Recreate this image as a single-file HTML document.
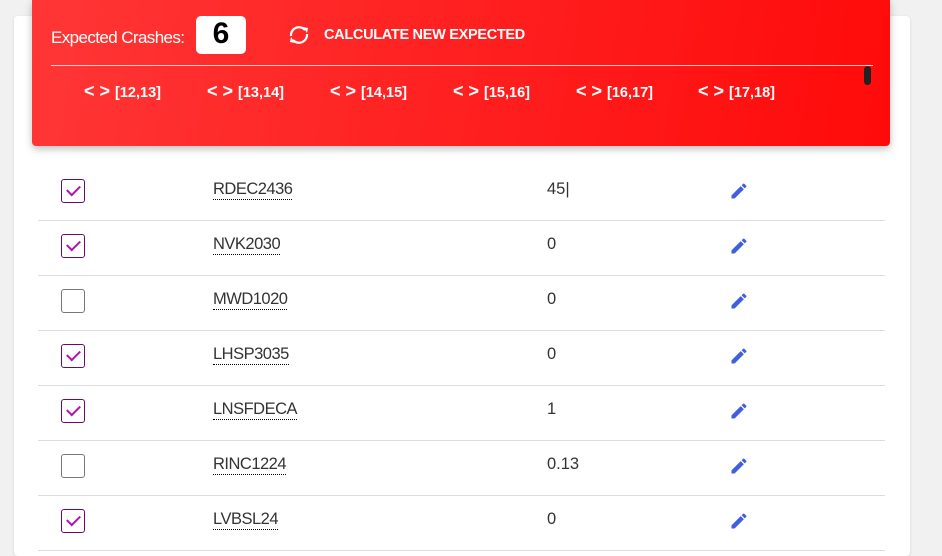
<!DOCTYPE html>
<html><head><meta charset="utf-8"><style>
body{margin:0;width:942px;height:545px;overflow:hidden;background:#f1f1f1;font-family:"Liberation Sans",sans-serif;position:relative}
.card{position:absolute;left:14px;top:16px;width:896px;height:540px;background:#fff;border-radius:4px;box-shadow:0 1px 3px rgba(0,0,0,.12)}
.hdr{position:absolute;left:32px;top:0;width:858px;height:146px;background:linear-gradient(100deg,#ff3636,#ff0a0a);border-radius:0 0 4px 4px;box-shadow:0 3px 8px rgba(0,0,0,.25);color:#fff}
.lbl{position:absolute;left:19px;top:28px;font-size:17px;letter-spacing:-0.6px}
.num{position:absolute;left:164px;top:16px;width:50px;height:38px;background:#fff;border-radius:5px;color:#000;font-size:30px;font-weight:bold;text-align:center;line-height:36px}
.calc{position:absolute;left:292px;top:27px;font-size:14.5px;font-weight:bold;letter-spacing:-0.3px}
.line{position:absolute;left:19px;top:65px;width:822px;height:1px;background:rgba(255,255,255,.8)}
.sb{position:absolute;left:832px;top:66px;width:7px;height:19px;background:#222;border-radius:4px}
.tab{position:absolute;top:81px;font-size:14.5px;font-weight:bold}
.tab b{font-size:18px;position:relative;top:0px;margin-right:5px}
.row{position:absolute;left:38px;width:847px;height:55px;border-bottom:1px solid #ddd}
.cb{position:absolute;left:23px;top:14px;width:22px;height:22px;border:1px solid #777;border-radius:3px;background:#fff}
.cb.on{border-color:#6a0a6a}
.cb.on::after{content:"";position:absolute;left:5px;top:5px;width:11px;height:6px;border-left:2px solid #b012b0;border-bottom:2px solid #b012b0;transform:rotate(-45deg)}
.nm{position:absolute;left:175px;top:15px;font-size:16.5px;color:#333;border-bottom:1px dotted #000;letter-spacing:-0.5px;line-height:19px}
.val{position:absolute;left:509px;top:15px;font-size:16.5px;color:#333;line-height:19px}
.ed{position:absolute;left:691px;top:16px}
</style></head><body>
<div class="card"></div>
<div class="hdr">
<div class="lbl">Expected Crashes:</div>
<div class="num">6</div>
<svg style="position:absolute;left:254px;top:24px" width="26" height="22" viewBox="0 0 26 22"><path d="M5 12a8 8 0 0 1 14-6" fill="none" stroke="#fff" stroke-width="2.2"/><path d="M21 10a8 8 0 0 1-14 6" fill="none" stroke="#fff" stroke-width="2.2"/><path d="M17 3l5 1-1 5z" fill="#fff"/><path d="M9 19l-5-1 1-5z" fill="#fff"/></svg>
<div class="calc">CALCULATE NEW EXPECTED</div>
<div class="line"></div>
<div class="sb"></div>
<div class="tab" style="left:52px"><b>&lt; &gt;</b>[12,13]</div>
<div class="tab" style="left:175px"><b>&lt; &gt;</b>[13,14]</div>
<div class="tab" style="left:298px"><b>&lt; &gt;</b>[14,15]</div>
<div class="tab" style="left:421px"><b>&lt; &gt;</b>[15,16]</div>
<div class="tab" style="left:544px"><b>&lt; &gt;</b>[16,17]</div>
<div class="tab" style="left:666px"><b>&lt; &gt;</b>[17,18]</div>
</div>
<div id="rows"></div>
<script>
const names=["RDEC2436","NVK2030","MWD1020","LHSP3035","LNSFDECA","RINC1224","LVBSL24"];
const vals=["45","0","0","0","1","0.13","0"];
const checked=[true,true,false,true,true,false,true];
const c=document.getElementById('rows');
names.forEach((n,i)=>{
 const r=document.createElement('div');r.className='row';r.style.top=(165+i*55)+'px';
 
 
 const cb=document.createElement('div');cb.className='cb'+(checked[i]?' on':'');
 
 
 const nm=document.createElement('div');nm.className='nm';nm.textContent=n;
 
 
 const v=document.createElement('div');v.className='val';v.textContent=vals[i]+(i===0?'|':'');
 
 
 const e=document.createElementNS('http://www.w3.org/2000/svg','svg');e.setAttribute('class','ed');e.setAttribute('width','20');e.setAttribute('height','20');e.setAttribute('viewBox','0 0 24 24');
 e.innerHTML='<path fill="#3f5ee0" d="M3 17.25V21h3.75L17.81 9.94l-3.75-3.75L3 17.25zM20.71 7.04a1 1 0 0 0 0-1.41l-2.34-2.34a1 1 0 0 0-1.41 0l-1.83 1.83 3.75 3.75 1.83-1.83z"/>';
 
 
 r.append(cb,nm,v,e);c.appendChild(r);
});
</script>
</body></html>
